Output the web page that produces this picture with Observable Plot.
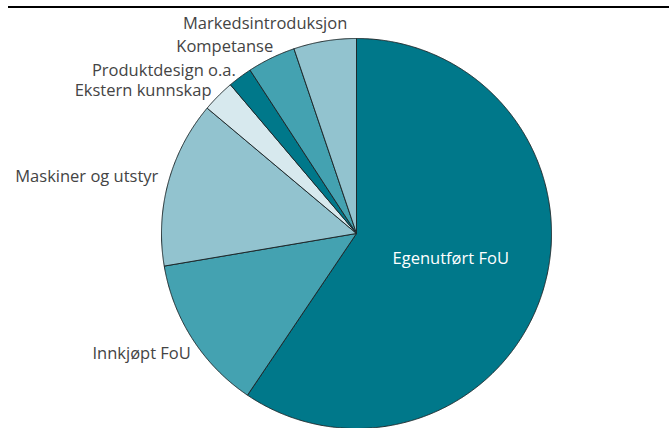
<!DOCTYPE html>
<html><head><meta charset="utf-8">
<script src="https://cdn.jsdelivr.net/npm/d3@7"></script>
<script src="https://cdn.jsdelivr.net/npm/@observablehq/plot@0.6"></script>
<style>
body{margin:0;background:#fff;}
#wrap{position:relative;width:669px;height:428px;overflow:hidden;}
#wrap svg{display:block;}
#rule{position:absolute;left:8px;right:0;top:6px;height:2px;background:#000;z-index:2;}
</style></head><body><div id="wrap"><div id="rule"></div></div>
<script>
// Data (clockwise from 12 o'clock)
const categories = ["Egenutført FoU", "Innkjøpt FoU", "Maskiner og utstyr", "Ekstern kunnskap", "Produktdesign o.a.", "Kompetanse", "Markedsintroduksjon"];
const values = [59.5, 12.9, 13.8, 2.7, 2.0, 4.0, 5.2];
const colors = ["#00788a", "#44a2b1", "#92c3cf", "#d7e9ee", "#00788a", "#44a2b1", "#92c3cf"];

// Layout (pixel offsets of labels from slice anchor: [dx, dy])
const labelOffsets = [[1, -3], [-1.8, 14.5], [-10, -5.2], [-6.8, -5], [-4.2, -6.7], [1.9, -11.1], [22.5, -16.9]];
const W = 669, H = 428, CX = 356, CY = 233, R = 195;

const arcs = d3.pie().sort(null).value(d => d)(values);
const poly = [];
arcs.forEach((a, i) => {
  poly.push({k: i, x: 0, y: 0, c: colors[i]});
  const n = Math.max(4, Math.ceil((a.endAngle - a.startAngle) / 0.005));
  for (let j = 0; j <= n; j++) {
    const t = a.startAngle + (a.endAngle - a.startAngle) * j / n;
    poly.push({k: i, x: Math.sin(t), y: Math.cos(t), c: colors[i]});
  }
  poly.push({k: i, x: 0, y: 0, c: colors[i]});
});
const labels = arcs.map((a, i) => {
  const m = (a.startAngle + a.endAngle) / 2;
  const r = i === 0 ? 0.5 : 1;
  return {
    text: categories[i],
    x: r * Math.sin(m) + labelOffsets[i][0] / R,
    y: r * Math.cos(m) - labelOffsets[i][1] / R,
    inside: i === 0
  };
});

const font = "'Open Sans', sans-serif";
const chart = Plot.plot({
  width: W, height: H,
  margin: 0,
  x: {domain: [-CX / R, (W - CX) / R], axis: null},
  y: {domain: [(CY - H) / R, CY / R], axis: null},
  color: {type: "identity"},
  style: {background: "transparent", fontFamily: font},
  marks: [
    Plot.line(poly, {x: "x", y: "y", z: "k", fill: "c", stroke: "#1e2a2d", strokeWidth: 1, curve: "linear"}),
    Plot.text(labels.filter(d => !d.inside), {x: "x", y: "y", text: "text", textAnchor: "end", fontSize: 16.5, fill: "#444444", fontFamily: font}),
    Plot.text(labels.filter(d => d.inside), {x: "x", y: "y", text: "text", textAnchor: "middle", fontSize: 16.5, fill: "#ffffff", fontFamily: font})
  ]
});
document.getElementById("wrap").appendChild(chart);
</script>
</body></html>
